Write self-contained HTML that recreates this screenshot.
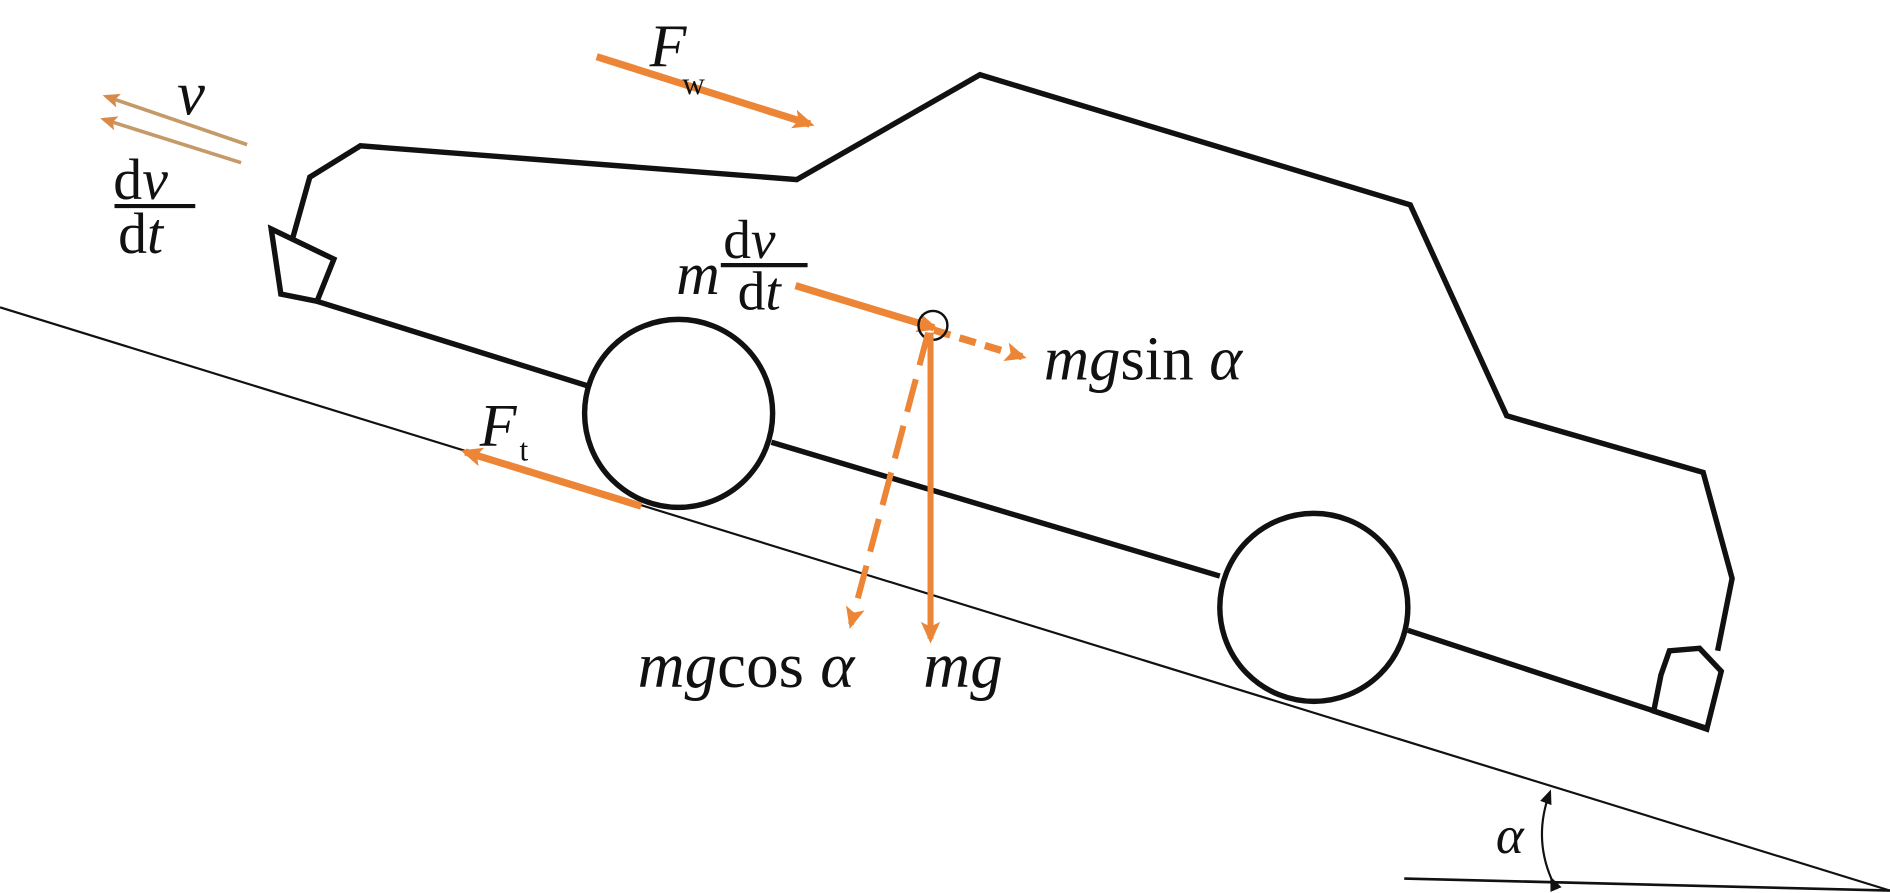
<!DOCTYPE html>
<html><head><meta charset="utf-8"><style>
html,body{margin:0;padding:0;background:#fff;overflow:hidden;}
svg{display:block;}
text{font-family:"Liberation Serif",serif;fill:#111;}
</style></head><body>
<svg width="1890" height="893" viewBox="0 0 1568 741" preserveAspectRatio="none" xmlns="http://www.w3.org/2000/svg">
<defs>
<marker id="aO" markerWidth="18" markerHeight="16" refX="14" refY="8" orient="auto" markerUnits="userSpaceOnUse">
<path d="M0,0 L18,8 L0,16 L4,8 z" fill="#ec8636"/></marker>
<marker id="aB" markerWidth="14" markerHeight="12" refX="11" refY="6" orient="auto" markerUnits="userSpaceOnUse">
<path d="M0,0 L14,6 L0,12 L3,6 z" fill="#d98a4a"/></marker>
<marker id="ak" markerWidth="12" markerHeight="12" refX="10" refY="6" orient="auto" markerUnits="userSpaceOnUse">
<path d="M0,1 L12,6 L0,11 z" fill="#111"/></marker>
</defs>
<!-- ground -->
<line x1="0" y1="255" x2="1568" y2="739" stroke="#111" stroke-width="1.8"/>
<line x1="1165" y1="729" x2="1568" y2="739" stroke="#111" stroke-width="2.2"/>
<path d="M1287,729 Q1272,694 1286,657" fill="none" stroke="#111" stroke-width="1.8" marker-start="url(#ak)" marker-end="url(#ak)"/>
<text x="1241" y="708" font-size="44" font-style="italic">α</text>
<!-- car body -->
<g fill="none" stroke="#111" stroke-width="4.5" stroke-linejoin="miter">
<polyline points="243,197 257,147 299,121 661,149 813,62 1170,170 1250,345 1413,392 1437,480 1425,540"/>
<polygon points="225,190 277,215 263,250 233,244"/>
<polyline points="263,250 487,320"/>
<polyline points="640,367 1012,478"/>
<polyline points="1168,523 1415,604"/>
<polygon points="1385,540 1410,538 1428,557 1416,605 1372,590 1378,560"/>
<circle cx="563" cy="343" r="78"/>
<circle cx="1090" cy="504" r="78"/>
</g>
<!-- v arrows -->
<line x1="205" y1="120" x2="88" y2="80" stroke="#c49a68" stroke-width="3" marker-end="url(#aB)"/>
<line x1="200" y1="135" x2="86" y2="99" stroke="#c49a68" stroke-width="3" marker-end="url(#aB)"/>
<text x="147" y="95" font-size="52" font-style="italic">v</text>
<text x="94" y="165" font-size="48">d<tspan font-style="italic">v</tspan></text>
<line x1="95" y1="171" x2="162" y2="171" stroke="#111" stroke-width="3.5"/>
<text x="98" y="210" font-size="48">d<tspan font-style="italic">t</tspan></text>
<!-- Fw -->
<line x1="495" y1="47" x2="672" y2="103" stroke="#ec8636" stroke-width="6" marker-end="url(#aO)"/>
<text x="539" y="55" font-size="50" font-style="italic">F</text>
<text x="566" y="78" font-size="26">w</text>
<!-- m dv/dt -->
<text x="561" y="244" font-size="50" font-style="italic">m</text>
<text x="600" y="214" font-size="46">d<tspan font-style="italic">v</tspan></text>
<line x1="598" y1="220" x2="670" y2="220" stroke="#111" stroke-width="3.5"/>
<text x="612" y="257" font-size="46">d<tspan font-style="italic">t</tspan></text>
<line x1="660" y1="237" x2="775" y2="272" stroke="#ec8636" stroke-width="6" marker-end="url(#aO)"/>
<line x1="775" y1="274" x2="848" y2="296" stroke="#ec8636" stroke-width="6" stroke-dasharray="14,8" marker-end="url(#aO)"/>
<circle cx="774" cy="270" r="12" fill="none" stroke="#111" stroke-width="2"/>
<text x="866" y="315" font-size="52"><tspan font-style="italic">mg</tspan>sin <tspan font-style="italic">α</tspan></text>
<!-- mg -->
<line x1="772" y1="276" x2="772" y2="530" stroke="#ec8636" stroke-width="5" marker-end="url(#aO)"/>
<line x1="770" y1="276" x2="706" y2="518" stroke="#ec8636" stroke-width="5" stroke-dasharray="28,12" marker-end="url(#aO)"/>
<text x="529" y="570" font-size="54"><tspan font-style="italic">mg</tspan>cos <tspan font-style="italic">α</tspan></text>
<text x="766" y="570" font-size="54" font-style="italic">mg</text>
<!-- Ft -->
<line x1="532" y1="420" x2="386" y2="375" stroke="#ec8636" stroke-width="6" marker-end="url(#aO)"/>
<text x="398" y="370" font-size="50" font-style="italic">F</text>
<text x="431" y="382" font-size="26">t</text>
</svg>
</body></html>
